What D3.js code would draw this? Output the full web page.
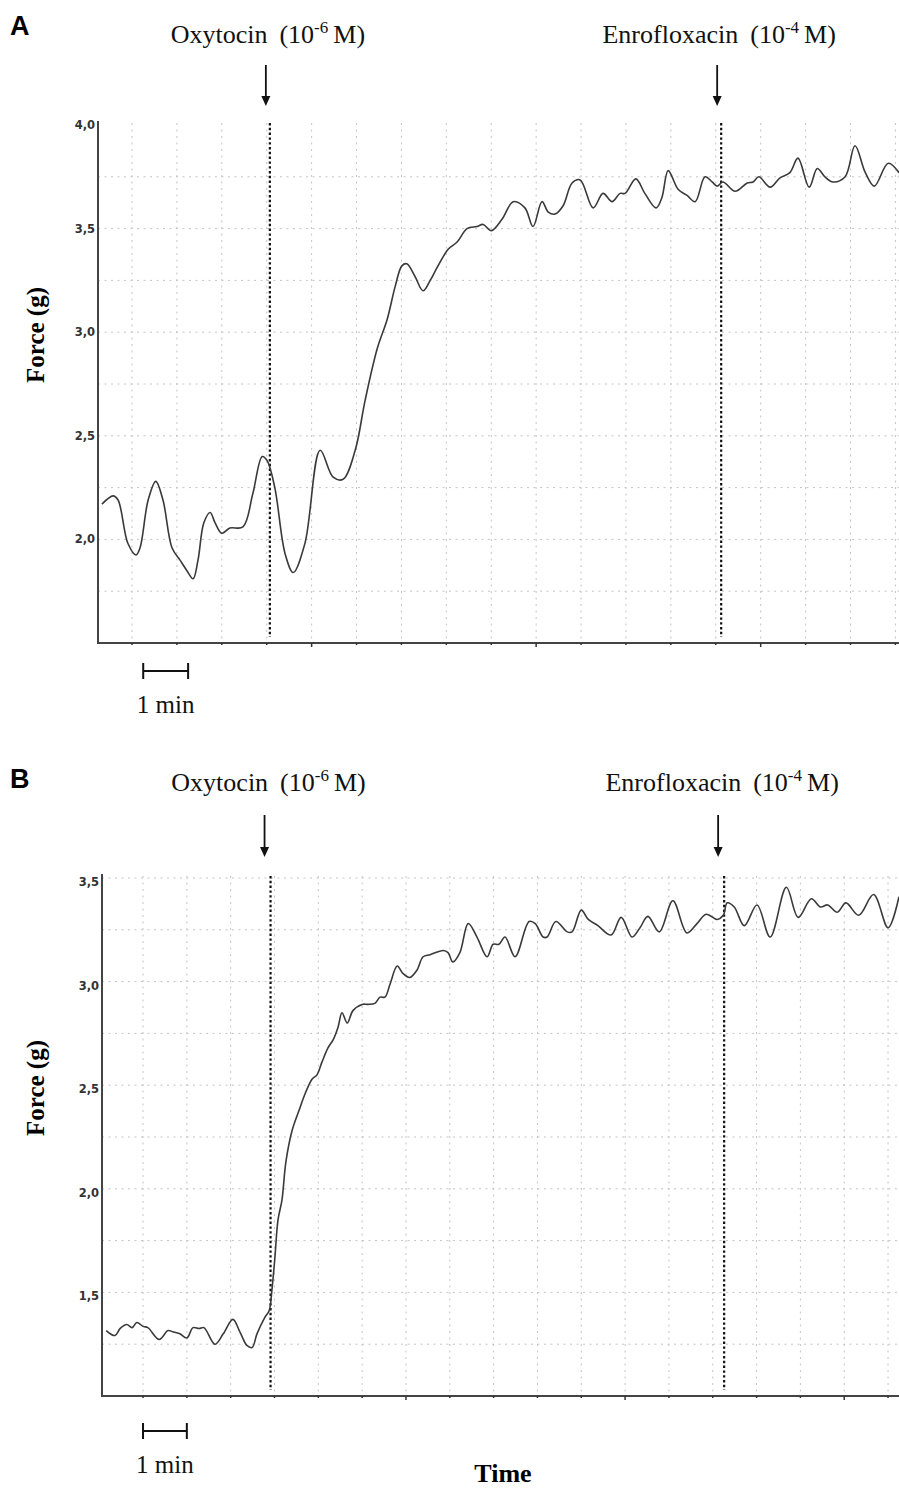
<!DOCTYPE html>
<html>
<head>
<meta charset="utf-8">
<script src="https://cdn.jsdelivr.net/npm/d3@7"></script>
<style>
  body { margin: 0; background: #fff; }
  svg { display: block; }
  .serif { font-family: "Liberation Serif", "Times New Roman", serif; }
  .tick-label { font-family: "DejaVu Sans", Verdana, sans-serif; font-weight: bold; font-size: 11.5px; fill: #333; }
</style>
</head>
<body>
<svg id="chart"></svg>
<script>
// time in minutes (grid lines = whole minutes), force in g
const timeA = [
  -0.67, -0.42, -0.31, -0.09, 0.09, 0.18, 0.36, 0.53, 0.69, 0.89,
  1.07, 1.22, 1.36, 1.47, 1.60, 1.74, 1.85, 2.00, 2.18, 2.47,
  2.69, 2.90, 3.01, 3.18, 3.41, 3.59, 3.85, 4.19, 4.48, 4.70,
  4.97, 5.19, 5.46, 5.68, 5.86, 6.01, 6.12, 6.30, 6.48, 6.64,
  6.79, 7.04, 7.24, 7.46, 7.68, 7.82, 8.00, 8.24, 8.49, 8.75,
  8.93, 9.13, 9.27, 9.42, 9.60, 9.80, 9.98, 10.27, 10.49, 10.69,
  10.87, 10.98, 11.22, 11.42, 11.67, 11.80, 11.94, 12.16, 12.36, 12.54,
  12.76, 12.92, 13.03, 13.16, 13.43, 13.70, 13.83, 13.96, 14.21, 14.43,
  14.65, 14.83, 15.08, 15.26, 15.43, 15.61, 15.88, 16.10, 16.33, 16.53,
  16.84, 17.08
];
const forceA = [
  2.17, 2.21, 2.19, 1.98, 1.925, 1.96, 2.19, 2.28, 2.19, 1.96,
  1.90, 1.85, 1.81, 1.90, 2.08, 2.13, 2.08, 2.03, 2.055, 2.06,
  2.22, 2.40, 2.38, 2.25, 1.93, 1.84, 1.98, 2.43, 2.30, 2.29,
  2.43, 2.67, 2.92, 3.06, 3.22, 3.32, 3.33, 3.27, 3.20, 3.25,
  3.31, 3.40, 3.435, 3.50, 3.51, 3.52, 3.49, 3.545, 3.63, 3.60,
  3.51, 3.63, 3.58, 3.57, 3.61, 3.72, 3.735, 3.60, 3.67, 3.63,
  3.67, 3.67, 3.74, 3.67, 3.60, 3.65, 3.78, 3.69, 3.66, 3.63,
  3.75, 3.725, 3.705, 3.725, 3.68, 3.72, 3.725, 3.75, 3.70, 3.745,
  3.77, 3.84, 3.70, 3.79, 3.75, 3.725, 3.75, 3.90, 3.77, 3.705,
  3.815, 3.77
];

const timeB = [
  -0.84, -0.64, -0.52, -0.37, -0.25, -0.14, 0.00, 0.11, 0.37, 0.57,
  0.68, 0.84, 1.00, 1.14, 1.28, 1.39, 1.64, 1.83, 2.05, 2.21,
  2.37, 2.49, 2.60, 2.78, 2.88, 2.94, 3.01, 3.08, 3.17, 3.26,
  3.40, 3.58, 3.70, 3.86, 3.97, 4.08, 4.22, 4.34, 4.45, 4.54,
  4.66, 4.79, 5.00, 5.13, 5.29, 5.41, 5.52, 5.64, 5.80, 5.93,
  6.09, 6.25, 6.39, 6.55, 6.85, 6.96, 7.07, 7.23, 7.42, 7.62,
  7.85, 7.99, 8.12, 8.26, 8.49, 8.81, 8.95, 9.13, 9.22, 9.42,
  9.68, 9.79, 10.00, 10.16, 10.38, 10.68, 10.91, 11.16, 11.34, 11.52,
  11.78, 12.09, 12.41, 12.64, 12.85, 13.10, 13.24, 13.33, 13.49, 13.72,
  14.01, 14.31, 14.68, 14.95, 15.25, 15.46, 15.62, 15.84, 16.04, 16.33,
  16.67, 17.00, 17.25
];
const forceB = [
  1.316, 1.292, 1.326, 1.345, 1.33, 1.355, 1.336, 1.33, 1.273, 1.316,
  1.31, 1.30, 1.28, 1.33, 1.326, 1.33, 1.25, 1.30, 1.37, 1.31,
  1.244, 1.234, 1.30, 1.38, 1.413, 1.51, 1.67, 1.85, 1.945, 2.13,
  2.28, 2.39, 2.46, 2.53, 2.55, 2.61, 2.68, 2.72, 2.78, 2.85,
  2.80, 2.86, 2.89, 2.89, 2.895, 2.925, 2.925, 2.99, 3.075, 3.04,
  3.02, 3.055, 3.12, 3.13, 3.15, 3.14, 3.095, 3.14, 3.28, 3.215,
  3.12, 3.18, 3.18, 3.215, 3.12, 3.29, 3.28, 3.215, 3.215, 3.29,
  3.24, 3.24, 3.345, 3.30, 3.27, 3.225, 3.31, 3.215, 3.26, 3.315,
  3.24, 3.39, 3.235, 3.28, 3.325, 3.30, 3.32, 3.38, 3.36, 3.27,
  3.37, 3.215, 3.455, 3.31, 3.40, 3.36, 3.37, 3.335, 3.38, 3.32,
  3.42, 3.26, 3.41
];

const drugNames = ["Oxytocin", "Enrofloxacin"];
const drugExp = ["-6", "-4"];
const drugTimeA = [3.07, 13.12];
const drugTimeB = [2.91, 13.26];

const yTicksA = [2.0, 2.5, 3.0, 3.5, 4.0];
const yTicksB = [1.5, 2.0, 2.5, 3.0, 3.5];
const yGridA = [1.75, 2.0, 2.25, 2.5, 2.75, 3.0, 3.25, 3.5, 3.75];
const yGridB = [1.25, 1.5, 1.75, 2.0, 2.25, 2.5, 2.75, 3.0, 3.25, 3.5];
const xGrid = d3.range(0, 18);
const majorTicksA = [4, 9, 14];
const majorTicksB = [6, 11, 16];

const W = 899, H = 1489;
const svg = d3.select("#chart").attr("width", W).attr("height", H);
const fmt = v => d3.format(".1f")(v).replace(".", ",");

const drawPanel = p => {
  const x = d3.scaleLinear().domain(p.xDomain).range([p.left, W]);
  const y = d3.scaleLinear().domain(p.yDomain).range([p.bottom, p.top]);
  const g = svg.append("g");

  // panel letter
  g.append("text")
    .attr("x", 10).attr("y", p.letterY)
    .attr("font-family", "Liberation Sans, Arial, sans-serif")
    .attr("font-weight", "bold").attr("font-size", 27)
    .text(p.letter);

  // grid
  g.selectAll(".gx").data(xGrid).enter().append("line")
    .attr("x1", d => x(d)).attr("x2", d => x(d))
    .attr("y1", p.top - 2).attr("y2", p.bottom)
    .attr("stroke", "#c4c4c4").attr("stroke-dasharray", "2,4.5");
  g.selectAll(".gy").data(p.yGrid).enter().append("line")
    .attr("x1", p.left).attr("x2", W)
    .attr("y1", d => y(d)).attr("y2", d => y(d))
    .attr("stroke", "#c4c4c4").attr("stroke-dasharray", "2,4.5");

  // drug markers
  p.drugTime.forEach((t, i) => {
    const mx = x(t);
    g.append("line")
      .attr("x1", mx).attr("x2", mx)
      .attr("y1", p.top - 2).attr("y2", p.bottom - 6)
      .attr("stroke", "#111").attr("stroke-width", 2.2)
      .attr("stroke-dasharray", "2.4,2.4");
    const ax = mx - p.arrowDx;
    g.append("line")
      .attr("x1", ax).attr("x2", ax)
      .attr("y1", p.arrowY0).attr("y2", p.arrowY1 - 8)
      .attr("stroke", "#111").attr("stroke-width", 1.8);
    g.append("path")
      .attr("d", `M${ax - 4.5},${p.arrowY1 - 10}L${ax + 4.5},${p.arrowY1 - 10}L${ax},${p.arrowY1}Z`)
      .attr("fill", "#111");
    const t1 = g.append("text").attr("class", "serif")
      .attr("x", mx - 2).attr("y", p.labelY)
      .attr("text-anchor", "middle").attr("font-size", 26).attr("fill", "#111");
    t1.append("tspan").text(drugNames[i]);
    t1.append("tspan").attr("dx", 12).text("(10");
    t1.append("tspan").attr("font-size", 17).attr("dy", -10).text(drugExp[i]);
    t1.append("tspan").attr("dy", 10).attr("dx", 5).text("M)");
  });

  // trace
  const pts = p.time.map((t, i) => [t, p.force[i]]);
  g.append("path")
    .datum(pts)
    .attr("fill", "none").attr("stroke", "#3a3a3a").attr("stroke-width", 1.6)
    .attr("stroke-linejoin", "round")
    .attr("d", d3.line().x(d => x(d[0])).y(d => y(d[1])).curve(d3.curveCatmullRom.alpha(0.5)));

  // axes
  g.append("line")
    .attr("x1", p.left).attr("x2", p.left)
    .attr("y1", p.top - 4).attr("y2", p.bottom + 1)
    .attr("stroke", "#444").attr("stroke-width", 2);
  g.append("line")
    .attr("x1", p.left - 1).attr("x2", W)
    .attr("y1", p.bottom).attr("y2", p.bottom)
    .attr("stroke", "#444").attr("stroke-width", 2);
  g.selectAll(".mt").data(xGrid).enter().append("line")
    .attr("x1", d => x(d)).attr("x2", d => x(d))
    .attr("y1", p.bottom).attr("y2", d => p.bottom + (p.majorTicks.includes(d) ? 4 : 2))
    .attr("stroke", "#333").attr("stroke-width", 1.5);

  g.selectAll(".yl").data(p.yTicks).enter().append("text")
    .attr("class", "tick-label")
    .attr("x", p.left - 3).attr("y", d => y(d) + p.tickDy)
    .attr("text-anchor", "end").attr("dy", "0.35em")
    .text(fmt);

  g.append("text").attr("class", "serif")
    .attr("transform", `translate(44,${p.bottom - 308}) rotate(-90)`)
    .attr("text-anchor", "middle").attr("font-size", 25).attr("font-weight", "bold")
    .text("Force (g)");

  // 1 min scale bar
  const b0 = x(p.barT0), b1 = x(p.barT0 + 1);
  g.append("path")
    .attr("d", `M${b0},${p.barY - 8}V${p.barY + 8}M${b0},${p.barY}H${b1}M${b1},${p.barY - 8}V${p.barY + 8}`)
    .attr("fill", "none").attr("stroke", "#111").attr("stroke-width", 2);
  g.append("text").attr("class", "serif")
    .attr("x", (b0 + b1) / 2).attr("y", p.barY + 42)
    .attr("text-anchor", "middle").attr("font-size", 25).attr("fill", "#111")
    .text("1 min");
};

drawPanel({
  letter: "A", letterY: 35, labelY: 43, arrowY0: 65, arrowY1: 106,
  left: 98, top: 125, bottom: 643, tickDy: 0,
  xDomain: [-0.757, 17.08], yDomain: [1.5, 4.0],
  time: timeA, force: forceA, drugTime: drugTimeA, arrowDx: 4,
  yTicks: yTicksA, yGrid: yGridA, majorTicks: majorTicksA,
  barT0: 0.25, barY: 671
});

drawPanel({
  letter: "B", letterY: 788, labelY: 791, arrowY0: 815, arrowY1: 857,
  left: 102, top: 878, bottom: 1396, tickDy: 4,
  xDomain: [-0.936, 17.25], yDomain: [1.0, 3.5],
  time: timeB, force: forceB, drugTime: drugTimeB, arrowDx: 6,
  yTicks: yTicksB, yGrid: yGridB, majorTicks: majorTicksB,
  barT0: 0, barY: 1431
});

svg.append("text").attr("class", "serif")
  .attr("x", 503).attr("y", 1482)
  .attr("text-anchor", "middle").attr("font-size", 26).attr("font-weight", "bold")
  .text("Time");
</script>
</body>
</html>
